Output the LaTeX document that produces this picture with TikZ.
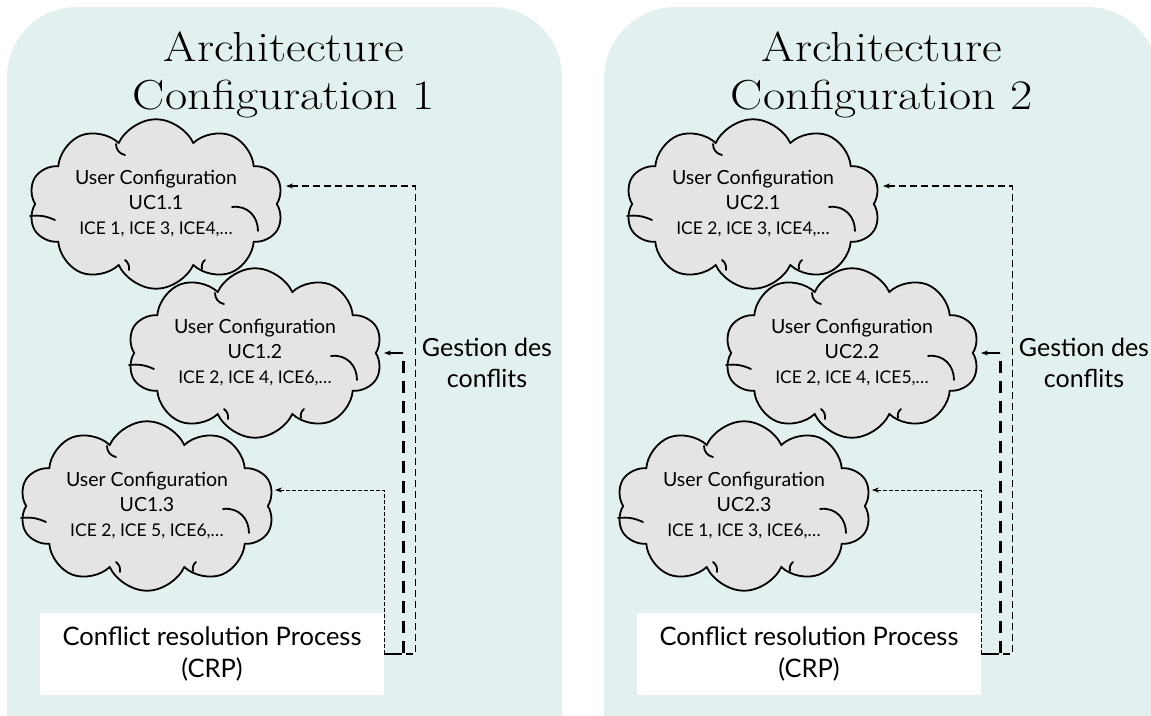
\documentclass[tikz,border=0pt]{standalone}
\usepackage{fontspec}
\newfontfamily\lato{Lato}
\usetikzlibrary{shapes.symbols,arrows.meta,calc}
\definecolor{panelc}{RGB}{226,240,240}
\definecolor{cloudc}{RGB}{229,228,229}
\newcommand{\wide}[1]{\scalebox{1.15}[1]{#1}}
\tikzset{
  cloudlines/.pic={
    \draw[line width=1.8pt, line cap=round] (-126,12) to[bend left=15] (-101,16);
    \draw[line width=1.8pt, line cap=round] (-40,-60) to[bend right=40] (-31,-49);
    \draw[line width=1.8pt, line cap=round] (76,3) .. controls (92,1) and (102,13) .. (102,27);
    \draw[line width=1.8pt, line cap=round] (-31,56) to[bend left=30] (-27,66);
    \draw[line width=1.8pt, line cap=round] (49,56) to[bend right=30] (46,65);
  }
}
\begin{document}
\begin{tikzpicture}[x=1pt,y=-1pt,
  ttl/.style={font=\fontsize{42}{48}\selectfont, align=center, anchor=north, inner sep=0pt},
  ucloud/.style={cloud, cloud puffs=10, cloud puff arc=130, aspect=1.75, draw=black,
    line width=1.8pt, fill=cloudc, minimum width=255pt, minimum height=140pt,
    inner sep=0pt, align=center, font=\lato\fontsize{19.5}{25}\selectfont},
  crpbox/.style={fill=white, minimum width=344pt, minimum height=82pt, inner sep=0pt,
    align=center, font=\lato\fontsize{25.5}{32}\selectfont},
  gest/.style={align=center, font=\lato\fontsize{25}{31}\selectfont, inner sep=0pt},
  linkA/.style={line width=1.2pt, dash pattern=on 7pt off 4pt},
  linkB/.style={line width=2.6pt, dash pattern=on 12pt off 8pt},
  linkC/.style={line width=1pt, dash pattern=on 4pt off 2pt},
  tip/.style={-{Stealth[length=7pt,width=5pt]}}
]
\path[use as bounding box] (0,0) rectangle (1151,715);
\clip (0,0) rectangle (1151,715);
\fill[panelc, rounded corners=70pt] (7,7) rectangle (562,800);
\fill[panelc, rounded corners=72pt] (604,7) rectangle (1159,800);

% ---------- panel 1 ----------
\node[ttl] (t1) at (284,32) {\wide{Architecture}\\\wide{Configuration 1}};
\node[ucloud] (c11) at (156,204) {User Configuration\\UC1.1\\{\fontsize{17.5}{25}\selectfont ICE 1, ICE 3, ICE4,…}};
\node[ucloud] (c12) at (255,353) {User Configuration\\UC1.2\\{\fontsize{17.5}{25}\selectfont ICE 2, ICE 4, ICE6,…}};
\node[ucloud] (c13) at (147,506) {User Configuration\\UC1.3\\{\fontsize{17.5}{25}\selectfont ICE 2, ICE 5, ICE6,…}};
\pic at (c11.center) {cloudlines};
\pic at (c12.center) {cloudlines};
\pic at (c13.center) {cloudlines};
\node[crpbox] (crp1) at (212,654) {Conflict resolution Process\\(CRP)};
\node[gest] (g1) at (487,363) {Gestion des\\conflits};
\coordinate (a11) at ($(c11.center)+(130,-18)$);
\coordinate (a12) at ($(c12.center)+(129,0)$);
\coordinate (a13) at ($(c13.center)+(128,-16)$);
\draw[linkA, tip] (crp1.east) -- ++(31,0) |- (a11);
\coordinate (b1) at ($(crp1.east)+(19,0)$);
\coordinate (k12) at (b1 |- a12);
\draw[linkB] (crp1.east) -- (b1) -- (k12);
\draw[line width=1.2pt, tip] (k12) -- (a12);
\draw[linkC, tip] (crp1.east) |- (a13);

% ---------- panel 2 ----------
\node[ttl] (t2) at (882,32) {\wide{Architecture}\\\wide{Configuration 2}};
\node[ucloud] (c21) at (753,204) {User Configuration\\UC2.1\\{\fontsize{17.5}{25}\selectfont ICE 2, ICE 3, ICE4,…}};
\node[ucloud] (c22) at (852,353) {User Configuration\\UC2.2\\{\fontsize{17.5}{25}\selectfont ICE 2, ICE 4, ICE5,…}};
\node[ucloud] (c23) at (744,506) {User Configuration\\UC2.3\\{\fontsize{17.5}{25}\selectfont ICE 1, ICE 3, ICE6,…}};
\pic at (c21.center) {cloudlines};
\pic at (c22.center) {cloudlines};
\pic at (c23.center) {cloudlines};
\node[crpbox] (crp2) at (809,654) {Conflict resolution Process\\(CRP)};
\node[gest] (g2) at (1084,363) {Gestion des\\conflits};
\coordinate (a21) at ($(c21.center)+(130,-18)$);
\coordinate (a22) at ($(c22.center)+(129,0)$);
\coordinate (a23) at ($(c23.center)+(128,-16)$);
\draw[linkA, tip] (crp2.east) -- ++(31,0) |- (a21);
\coordinate (b2) at ($(crp2.east)+(19,0)$);
\coordinate (k22) at (b2 |- a22);
\draw[linkB] (crp2.east) -- (b2) -- (k22);
\draw[line width=1.2pt, tip] (k22) -- (a22);
\draw[linkC, tip] (crp2.east) |- (a23);
\end{tikzpicture}
\end{document}
